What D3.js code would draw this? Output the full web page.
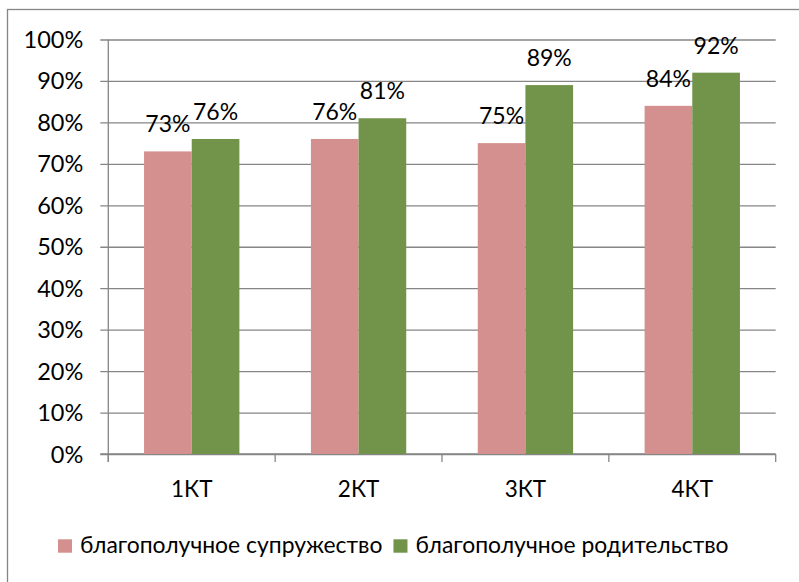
<!DOCTYPE html>
<html>
<head>
<meta charset="utf-8">
<script src="https://cdn.jsdelivr.net/npm/d3@7/dist/d3.min.js"></script>
<style>
  html, body { margin: 0; padding: 0; background: #fff; }
  svg { display: block; }
  text { font-family: Lato, "Open Sans", sans-serif; fill: #000; }
</style>
</head>
<body>
<svg id="chart" width="799" height="582"></svg>
<script>
// Категории и значения (%)
const categories = ["1КТ", "2КТ", "3КТ", "4КТ"];
const seriesNames = ["благополучное супружество", "благополучное родительство"];
const marriage = [73, 76, 75, 84];
const parenting = [76, 81, 89, 92];
const yTicks = [0, 10, 20, 30, 40, 50, 60, 70, 80, 90, 100];
const colors = ["#d4908e", "#71934a"];

const seriesValues = [marriage, parenting];
const rows = categories.map((c, i) => ({
  cat: c,
  vals: seriesValues.map((s, k) => ({ key: k, value: s[i] }))
}));

const svg = d3.select("#chart");
const W = 799, H = 582;
const plot = { left: 108.3, right: 775.7, top: 39.5, bottom: 454 };

// Рамка области диаграммы
svg.append("rect")
  .attr("x", 7.5).attr("y", 9.5)
  .attr("width", W).attr("height", H)
  .attr("fill", "none").attr("stroke", "#868686").attr("stroke-width", 1.3);

const y = d3.scaleLinear().domain([0, 100]).range([plot.bottom, plot.top]);
const x0 = d3.scaleBand().domain(categories)
  .range([plot.left, plot.right])
  .paddingInner(3 / 7).paddingOuter(3 / 14);
const x1 = d3.scaleBand().domain([0, 1]).range([0, x0.bandwidth()]);

// Сетка и ось Y
const yAxis = d3.axisLeft(y)
  .tickValues(yTicks)
  .tickSize(-(plot.right - plot.left))
  .tickFormat(d => d + "%");
const gy = svg.append("g").attr("transform", `translate(${plot.left},0)`).call(yAxis);
gy.select(".domain").remove();
gy.selectAll(".tick line")
  .attr("x1", -8)
  .attr("stroke", "#868686").attr("stroke-width", 1.3);
gy.selectAll(".tick text")
  .attr("x", -25).attr("dy", null).attr("y", 8)
  .attr("font-size", 23.5).attr("fill", "#000")
  .style("font-family", "Lato, sans-serif");
gy.attr("font-size", null).attr("font-family", null);

svg.append("line")
  .attr("x1", plot.left).attr("x2", plot.left)
  .attr("y1", plot.top).attr("y2", plot.bottom + 8)
  .attr("stroke", "#868686").attr("stroke-width", 1.3);

// Ось X
const xAxis = d3.axisBottom(x0).tickSize(0).tickPadding(0);
const gx = svg.append("g").attr("transform", `translate(0,${plot.bottom})`).call(xAxis);
gx.select(".domain").remove();
gx.attr("font-size", null).attr("font-family", null);
gx.selectAll(".tick text")
  .attr("dy", null).attr("y", 43)
  .attr("font-size", 22.5).attr("fill", "#000")
  .style("font-family", "Lato, sans-serif");
svg.append("line")
  .attr("x1", plot.left - 8).attr("x2", plot.right)
  .attr("y1", plot.bottom).attr("y2", plot.bottom)
  .attr("stroke", "#868686").attr("stroke-width", 1.3);
const step = x0.step();
svg.selectAll("line.cat-tick")
  .data(d3.range(categories.length + 1))
  .join("line").attr("class", "cat-tick")
  .attr("x1", i => plot.left + i * step).attr("x2", i => plot.left + i * step)
  .attr("y1", plot.bottom).attr("y2", plot.bottom + 8)
  .attr("stroke", "#868686").attr("stroke-width", 1.3);

// Столбцы
const groups = svg.append("g").selectAll("g")
  .data(rows).join("g")
  .attr("transform", d => `translate(${x0(d.cat)},0)`);
groups.selectAll("rect")
  .data(d => d.vals).join("rect")
  .attr("x", d => x1(d.key))
  .attr("width", x1.bandwidth())
  .attr("y", d => y(d.value))
  .attr("height", d => y(0) - y(d.value))
  .attr("fill", d => colors[d.key]);

// Подписи значений
groups.selectAll("text.val")
  .data(d => d.vals).join("text").attr("class", "val")
  .attr("x", d => x1(d.key) + x1.bandwidth() / 2)
  .attr("y", d => y(d.value) - 19)
  .attr("text-anchor", "middle")
  .attr("font-size", 23)
  .text(d => d.value + "%");

// Легенда
const legend = svg.append("g");
let lx = 58;
seriesNames.forEach((name, k) => {
  legend.append("rect")
    .attr("x", lx).attr("y", 539.3)
    .attr("width", 14).attr("height", 13.4)
    .attr("fill", colors[k]);
  const t = legend.append("text")
    .attr("x", lx + 22).attr("y", 553)
    .attr("font-size", 22.9)
    .text(name);
  lx += 22 + t.node().getComputedTextLength() + 11;
});
</script>
</body>
</html>
